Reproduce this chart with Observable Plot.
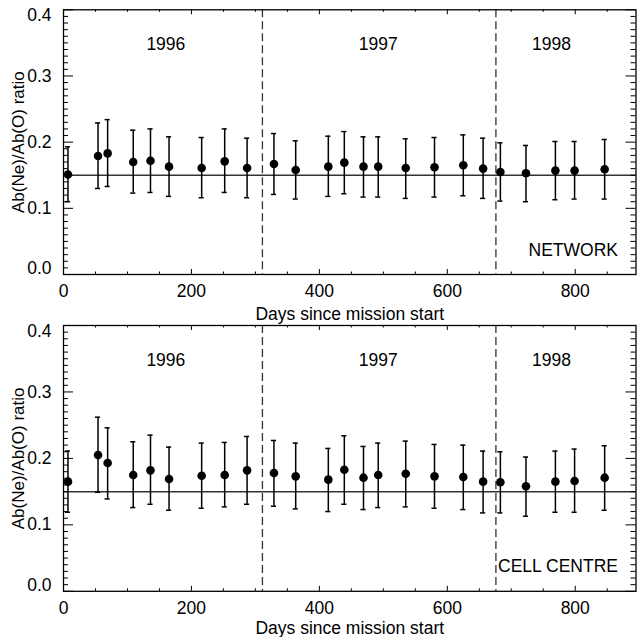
<!DOCTYPE html>
<html><head><meta charset="utf-8">
<script src="https://cdn.jsdelivr.net/npm/d3@7"></script>
<script src="https://cdn.jsdelivr.net/npm/@observablehq/plot@0.6"></script>
<style>
html,body{margin:0;padding:0;background:#fff;overflow:hidden}
#chart{position:relative;width:637px;height:637px}
#chart svg{display:block;position:absolute;left:0}
</style></head><body><div id="chart"></div>
<script>
// Days since mission start (shared by both panels)
const days = [7, 54, 69, 109, 136, 165, 216, 252, 287, 329, 363, 414, 439, 469, 492, 535, 580, 625, 656, 683, 723, 769, 799, 846];

// NETWORK panel
const networkValues = [0.151, 0.179, 0.183, 0.170, 0.172, 0.163, 0.161, 0.171, 0.161, 0.167, 0.158, 0.163, 0.169, 0.163, 0.163, 0.161, 0.162, 0.165, 0.160, 0.155, 0.153, 0.157, 0.157, 0.159];
const networkHigh = [0.193, 0.229, 0.234, 0.218, 0.220, 0.208, 0.207, 0.220, 0.206, 0.213, 0.202, 0.209, 0.216, 0.208, 0.208, 0.205, 0.207, 0.211, 0.206, 0.199, 0.195, 0.201, 0.201, 0.204];
const networkLow = [0.110, 0.130, 0.133, 0.123, 0.124, 0.118, 0.116, 0.124, 0.116, 0.121, 0.114, 0.118, 0.122, 0.117, 0.117, 0.115, 0.117, 0.119, 0.115, 0.111, 0.110, 0.113, 0.114, 0.114];

// CELL CENTRE panel
const cellValues = [0.165, 0.205, 0.193, 0.175, 0.182, 0.169, 0.174, 0.175, 0.182, 0.178, 0.173, 0.168, 0.183, 0.171, 0.175, 0.177, 0.173, 0.172, 0.165, 0.164, 0.158, 0.165, 0.166, 0.171];
const cellHigh = [0.211, 0.262, 0.246, 0.225, 0.235, 0.217, 0.223, 0.224, 0.233, 0.227, 0.223, 0.215, 0.234, 0.218, 0.223, 0.226, 0.221, 0.220, 0.211, 0.210, 0.202, 0.211, 0.214, 0.219];
const cellLow = [0.119, 0.149, 0.139, 0.126, 0.131, 0.122, 0.125, 0.127, 0.131, 0.128, 0.124, 0.120, 0.131, 0.123, 0.126, 0.127, 0.125, 0.123, 0.118, 0.118, 0.113, 0.119, 0.119, 0.122];

const yearLabels = ["1996", "1997", "1998"];
const yearLabelDays = [160, 492, 763];
const yearLabelRatio = 0.348;
const yearBoundaries = [311, 676];
const referenceRatio = 0.15;
const xTickValues = [0, 200, 400, 600, 800];
const yTickValues = [0.0, 0.1, 0.2, 0.3, 0.4];
const xDomain = [0, 895];
const yDomain = [0, 0.4];

function panel({values, high, low, name, height, marginTop, marginBottom, labelDy, background}) {
  const data = days.map((d, i) => ({day: d, v: values[i], hi: high[i], lo: low[i]}));
  const W = 637, ML = 63, MR = 1.5;
  const fw = W - ML - MR;
  const fh = height - marginTop - marginBottom;
  const xMinor = d3.range(50, 900, 50).filter(d => d % 200 !== 0);
  const yMinor = d3.range(1, 40).filter(i => i % 10 !== 0).map(i => i / 100);
  const tickStyle = {stroke: "black", strokeWidth: 1};
  return Plot.plot({
    width: W, height, marginLeft: ML, marginRight: MR, marginTop, marginBottom,
    style: {fontFamily: "'Liberation Sans', Arial, Helvetica, sans-serif", fontSize: "17.5px", color: "black", background},
    x: {domain: xDomain, axis: null},
    y: {domain: yDomain, axis: null},
    marks: [
      Plot.ruleY([referenceRatio], {stroke: "#333", strokeWidth: 1.5}),
      Plot.ruleX(yearBoundaries, {stroke: "#333", strokeWidth: 1.3, strokeDasharray: "8,4"}),
      Plot.ruleX(data, {x: "day", y1: "lo", y2: "hi", stroke: "black", strokeWidth: 1.5}),
      Plot.ruleY(data, {y: "hi", x1: d => d.day - 4, x2: d => d.day + 4, stroke: "black", strokeWidth: 1.5}),
      Plot.ruleY(data, {y: "lo", x1: d => d.day - 4, x2: d => d.day + 4, stroke: "black", strokeWidth: 1.5}),
      Plot.dot(data, {x: "day", y: "v", r: 4.3, fill: "black", stroke: "none"}),
      Plot.text(yearLabels, {x: (d, i) => yearLabelDays[i], y: () => yearLabelRatio, text: d => d, fill: "black"}),
      Plot.text([name], {frameAnchor: "bottom-right", textAnchor: "end", dx: -18, dy: -19, fill: "black"}),
      // y ticks, left and right (inward)
      Plot.tickY(yMinor, {y: d => d, insetRight: fw - 5, ...tickStyle}),
      Plot.tickY(yTickValues, {y: d => d, insetRight: fw - 10, ...tickStyle}),
      Plot.tickY(yMinor, {y: d => d, insetLeft: fw - 5, ...tickStyle}),
      Plot.tickY(yTickValues, {y: d => d, insetLeft: fw - 10, ...tickStyle}),
      // x ticks, bottom and top (inward)
      Plot.tickX(xMinor, {x: d => d, insetTop: fh - 2.5, ...tickStyle}),
      Plot.tickX(xTickValues, {x: d => d, insetTop: fh - 5, ...tickStyle}),
      Plot.tickX(xMinor, {x: d => d, insetBottom: fh - 2.5, ...tickStyle}),
      Plot.tickX(xTickValues, {x: d => d, insetBottom: fh - 5, ...tickStyle}),
      Plot.frame({stroke: "black", strokeWidth: 1.3}),
      Plot.axisY(yTickValues.slice(1, 4), {anchor: "left", tickSize: 0, tickPadding: 12, tickFormat: d3.format(".1f"), label: null}),
      Plot.axisY([yTickValues[0]], {anchor: "left", tickSize: 0, tickPadding: 12, tickFormat: d3.format(".1f"), label: null, dy: -6}),
      Plot.axisY([yTickValues[4]], {anchor: "left", tickSize: 0, tickPadding: 12, tickFormat: d3.format(".1f"), label: null, dy: 6}),
      Plot.axisX(xTickValues, {anchor: "bottom", tickSize: 0, tickPadding: 10.5, tickFormat: d3.format("d"), label: null}),
      Plot.text(["Days since mission start"], {frameAnchor: "bottom", lineAnchor: "top", dy: labelDy, fill: "black"}),
      Plot.text(["Ab(Ne)/Ab(O) ratio"], {frameAnchor: "left", textAnchor: "middle", rotate: -90, dx: -45, fontSize: 17, fill: "black"})
    ]
  });
}

const chart = document.getElementById("chart");
const p1 = panel({values: networkValues, high: networkHigh, low: networkLow, name: "NETWORK", height: 330, marginTop: 9.3, marginBottom: 56, labelDy: 33, background: "white"});
p1.style.top = "0px";
const p2 = panel({values: cellValues, high: cellHigh, low: cellLow, name: "CELL CENTRE", height: 327, marginTop: 15, marginBottom: 46.2, labelDy: 30, background: "transparent"});
p2.style.top = "310px";
chart.append(p1, p2);
</script>
</body></html>
